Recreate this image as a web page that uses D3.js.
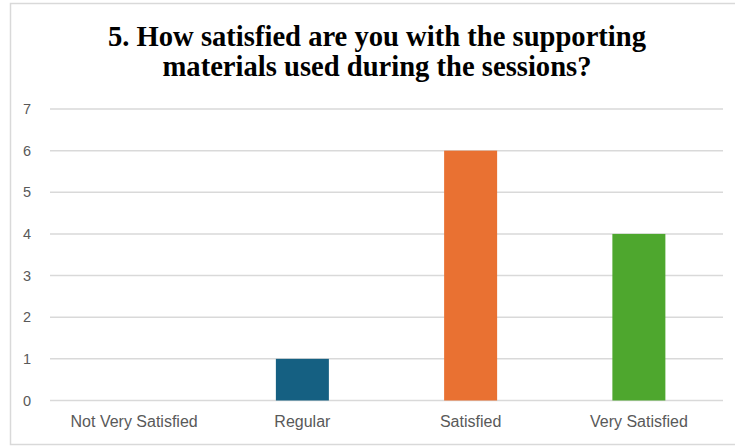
<!DOCTYPE html>
<html>
<head>
<meta charset="utf-8">
<script src="https://cdn.jsdelivr.net/npm/d3@7"></script>
<style>
  body { margin: 0; background: #fff; }
  svg { display: block; }
</style>
</head>
<body>
<div id="chart"></div>
<script>
(function(d3) {

    "use strict";

    // chart data
    var categories = ["Not Very Satisfied", "Regular", "Satisfied", "Very Satisfied"];
    var values = [0, 1, 6, 4];
    var barColors = ["#156082", "#156082", "#E97132", "#4EA72E"];
    var yTicks = [0, 1, 2, 3, 4, 5, 6, 7];
    var titleLines = [
        "5. How satisfied are you with the supporting",
        "materials used during the sessions?"
    ];

    var width = 735,
        height = 447,
        margin = { top: 109, right: 12, bottom: 46, left: 50 };

    var svg = d3.select("#chart")
        .append("svg")
        .attr("width", width)
        .attr("height", height);

    // outer chart border
    svg.append("rect")
        .attr("x", 10.5)
        .attr("y", 3.5)
        .attr("width", 740)
        .attr("height", 441)
        .attr("fill", "#fff")
        .attr("stroke", "#D9D9D9")
        .attr("stroke-width", 1.5);

    var x = d3.scaleBand()
        .domain(categories)
        .range([margin.left, width - margin.right])
        .padding(0);

    var y = d3.scaleLinear()
        .domain([0, 7])
        .range([height - margin.bottom - 0.5, margin.top]);

    var barWidth = x.bandwidth() * 0.315;

    // gridlines
    svg.append("g")
        .selectAll("line")
        .data(yTicks)
        .enter()
        .append("line")
        .attr("x1", margin.left)
        .attr("x2", width - margin.right)
        .attr("y1", function(d) { return y(d); })
        .attr("y2", function(d) { return y(d); })
        .attr("stroke", "#D9D9D9")
        .attr("stroke-width", 1.5);

    // y axis labels
    var yAxis = d3.axisLeft(y)
        .tickValues(yTicks)
        .tickFormat(d3.format("d"))
        .tickSize(0)
        .tickPadding(19);

    var yg = svg.append("g")
        .attr("transform", "translate(" + margin.left + ",0)")
        .call(yAxis);
    yg.select(".domain").remove();
    yg.selectAll("text")
        .attr("fill", "#595959")
        .style("font-family", "'Liberation Sans', Arial, sans-serif")
        .style("font-size", "14.5px");

    // bars
    svg.append("g")
        .selectAll("rect")
        .data(values)
        .enter()
        .append("rect")
        .attr("x", function(d, i) { return x(categories[i]) + (x.bandwidth() - barWidth) / 2; })
        .attr("y", function(d) { return y(d); })
        .attr("width", barWidth)
        .attr("height", function(d) { return y(0) - y(d); })
        .attr("fill", function(d, i) { return barColors[i]; });

    // x axis labels
    var xAxis = d3.axisBottom(x)
        .tickSize(0)
        .tickPadding(15);

    var xg = svg.append("g")
        .attr("transform", "translate(0," + y(0) + ")")
        .call(xAxis);
    xg.select(".domain").remove();
    xg.selectAll("text")
        .attr("fill", "#595959")
        .style("font-family", "'Liberation Sans Narrow', 'Liberation Sans', sans-serif")
        .style("font-size", "16px");

    // title
    svg.append("text")
        .attr("text-anchor", "middle")
        .style("font-family", "'Liberation Serif', 'Times New Roman', serif")
        .style("font-weight", "bold")
        .style("font-size", "28.6px")
        .attr("fill", "#000")
        .selectAll("tspan")
        .data(titleLines)
        .enter()
        .append("tspan")
        .attr("x", 377)
        .attr("y", function(d, i) { return 46 + i * 30; })
        .text(function(d) { return d; });

})(d3);
</script>
</body>
</html>
